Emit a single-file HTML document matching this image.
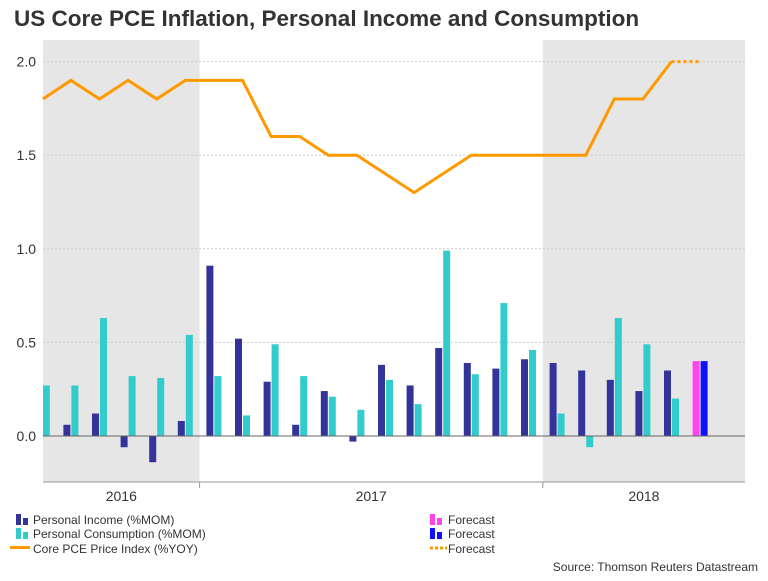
<!DOCTYPE html>
<html><head><meta charset="utf-8"><style>
body{margin:0;width:768px;height:576px;background:#fff;font-family:"Liberation Sans",sans-serif;overflow:hidden}
</style></head><body>
<svg width="768" height="576" viewBox="0 0 768 576" xmlns="http://www.w3.org/2000/svg" font-family="Liberation Sans, sans-serif">
<text x="14" y="26" font-size="22.5" font-weight="bold" fill="#333">US Core PCE Inflation, Personal Income and Consumption</text>
<g id="plot"></g>
<g font-size="12" fill="#333">
<rect x="16" y="514" width="5" height="11" fill="#333399"/><rect x="23" y="518" width="5" height="7" fill="#333399"/>
<text x="33" y="524">Personal Income (%MOM)</text>
<rect x="16" y="528" width="5" height="11" fill="#33cccc"/><rect x="23" y="532" width="5" height="7" fill="#33cccc"/>
<text x="33" y="538">Personal Consumption (%MOM)</text>
<rect x="10" y="546" width="20" height="3" fill="#ff9900"/>
<text x="33" y="553">Core PCE Price Index (%YOY)</text>
<rect x="430" y="514" width="5" height="11" fill="#ff44ee"/><rect x="437" y="518" width="5" height="7" fill="#ff44ee"/>
<text x="448" y="524">Forecast</text>
<rect x="430" y="528" width="5" height="11" fill="#1010ff"/><rect x="437" y="532" width="5" height="7" fill="#1010ff"/>
<text x="448" y="538">Forecast</text>
<line x1="430" y1="548" x2="447" y2="548" stroke="#ff9900" stroke-width="3" stroke-dasharray="3,2"/>
<text x="448" y="553">Forecast</text>
</g>
<text x="758" y="571" font-size="12" fill="#333" text-anchor="end">Source: Thomson Reuters Datastream</text>
</svg>
<script>
const months = 24; // Jul 2016 .. Jun 2018
const income = [null,0.06,0.12,-0.06,-0.14,0.08,0.91,0.52,0.29,0.06,0.24,-0.03,0.38,0.27,0.47,0.39,0.36,0.41,0.39,0.35,0.30,0.24,0.35,null];
const consumption = [0.27,0.27,0.63,0.32,0.31,0.54,0.32,0.11,0.49,0.32,0.21,0.14,0.30,0.17,0.99,0.33,0.71,0.46,0.12,-0.06,0.63,0.49,0.20,null];
const pce = [1.8,1.9,1.8,1.9,1.8,1.9,1.9,1.9,1.6,1.6,1.5,1.5,1.4,1.3,1.4,1.5,1.5,1.5,1.5,1.5,1.8,1.8,2.0];
const forecastIncome = [{i:23,v:0.40}];
const forecastCons = [{i:23,v:0.40}];
const forecastPce = [{i:22,v:2.0},{i:23,v:2.0}];
const yTicks = [0.0,0.5,1.0,1.5,2.0];
const yTickLabels = ["0.0","0.5","1.0","1.5","2.0"];
const years = [{label:"2016",start:-0.5,end:5.5,shade:true},{label:"2017",start:5.5,end:17.5,shade:false},{label:"2018",start:17.5,end:26,shade:true}];

const NS="http://www.w3.org/2000/svg";
const L=43,R=745,T=40,B=482;
const x0=42.3, dx=28.6;
const X=i=>x0+i*dx;
const Y=v=>436-v*187.2;
const g=document.getElementById('plot');
function mk(t,a){const e=document.createElementNS(NS,t);for(const k in a)e.setAttribute(k,a[k]);g.appendChild(e);return e;}
const clip=mk('clipPath',{id:'pc'});
const cr=document.createElementNS(NS,'rect');cr.setAttribute('x',L);cr.setAttribute('y',T);cr.setAttribute('width',R-L);cr.setAttribute('height',B-T);clip.appendChild(cr);
years.forEach(y=>{
  const xs=Math.max(L,X(y.start)), xe=Math.min(R,X(y.end));
  if(y.shade){const r=mk('rect',{x:xs,y:T,width:xe-xs,height:B-T,fill:'#e6e6e6'});
    
    }
  const t=mk('text',{x:(xs+xe)/2,y:501,'font-size':14,fill:'#333','text-anchor':'middle'});t.textContent=y.label;
  
  
  if(y.start>0){const tk=mk('line',{x1:X(y.start),x2:X(y.start),y1:B,y2:B+6,stroke:'#999'});
    
    }
});
yTicks.forEach((v,k)=>{
  const l=mk('line',{x1:L,x2:R,y1:Y(v),y2:Y(v),stroke:'#ccc','stroke-dasharray':v===0?'':'2,2','stroke-width':1});
  
  
  const t=mk('text',{x:36,y:Y(v)+5,'font-size':14,fill:'#333','text-anchor':'end'});t.textContent=yTickLabels[k];
  
  
});
const bars=mk('g',{'clip-path':'url(#pc)'});
function bar(i,v,off,col,name){
  const y1=Y(Math.max(v,0)),y2=Y(Math.min(v,0));
  const r=document.createElementNS(NS,'rect');
  r.setAttribute('x',X(i)+off);r.setAttribute('y',y1);r.setAttribute('width',7);r.setAttribute('height',Math.max(y2-y1,0.5));r.setAttribute('fill',col);
  
  
  bars.appendChild(r);
}
income.forEach((v,i)=>{if(v!==null)bar(i,v,-7.5,'#333399','income-bar');});
consumption.forEach((v,i)=>{if(v!==null)bar(i,v,0.5,'#33cccc','consumption-bar');});
forecastIncome.forEach(d=>bar(d.i,d.v,-7.5,'#ff44ee','forecast-income-bar'));
forecastCons.forEach(d=>bar(d.i,d.v,0.5,'#1010ff','forecast-consumption-bar'));
const ax=mk('line',{x1:L,x2:R,y1:Y(0),y2:Y(0),stroke:'#666'});


const bx=mk('line',{x1:L,x2:R,y1:B,y2:B,stroke:'#999'});


const pl=mk('polyline',{points:pce.map((v,i)=>Math.max(L,X(i))+','+Y(v)).join(' '),fill:'none',stroke:'#ff9900','stroke-width':3,'stroke-linejoin':'miter'});


const fl=mk('polyline',{points:forecastPce.map(d=>X(d.i)+','+Y(d.v)).join(' '),fill:'none',stroke:'#ff9900','stroke-width':3,'stroke-dasharray':'3,3'});


</script>
</body></html>
